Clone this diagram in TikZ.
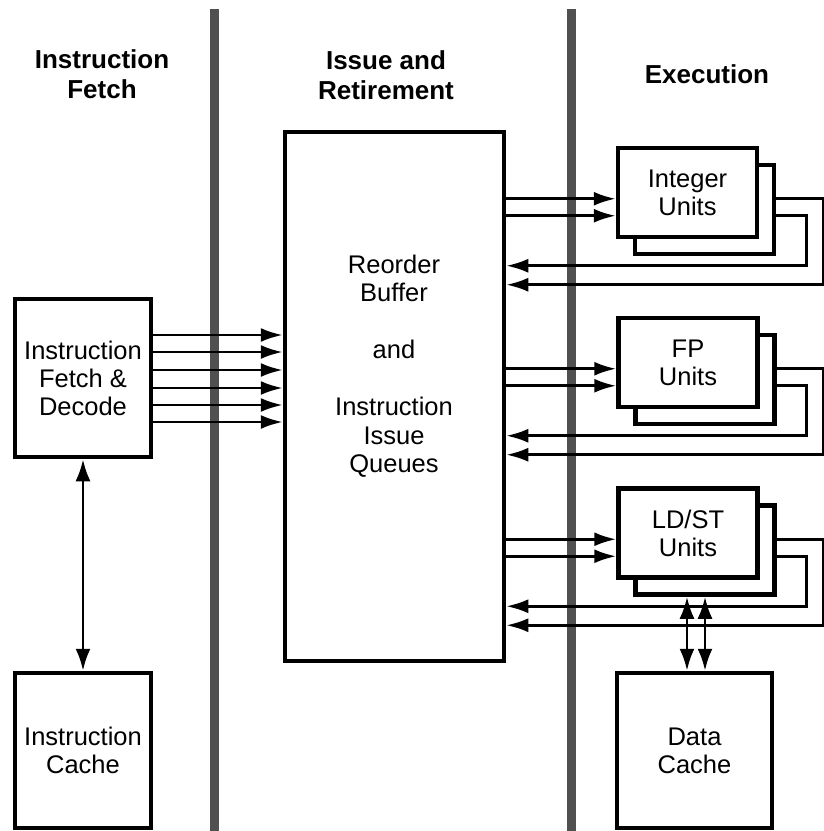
\documentclass[tikz,border=0pt]{standalone}
\usepackage{fontspec}
\setmainfont{Liberation Sans}
\usepackage{tikz}
\usetikzlibrary{arrows.meta,positioning,calc}
\definecolor{figrule}{RGB}{80,80,80}

\begin{document}
\begin{tikzpicture}[
  x=1pt, y=-1pt,
  box/.style={draw, line width=4.5pt, fill=white, inner sep=0pt, align=center,
    font={\fontsize{25.5}{28}\selectfont}},
  unit/.style={box, minimum width=139pt, minimum height=89pt},
  head/.style={align=center, font={\fontsize{26}{30}\selectfont\bfseries}},
  divider/.style={figrule, line width=9pt},
  arr/.style={-{Latex[length=22pt,width=14pt]}, line width=2.8pt},
  darr/.style={{Latex[length=22pt,width=15pt]}-{Latex[length=22pt,width=15pt]}, line width=2.8pt}]
  \useasboundingbox (0,0) rectangle (824,831);
  \draw[divider] (214,9) -- (214,831);
  \draw[divider] (571,9) -- (571,831);
  \node[head] (hfetch) at (102,74) {Instruction\\Fetch};
  \node[head] (hissue) at (386,75) {Issue and\\Retirement};
  \node[head] (hexec) at (707,74) {Execution};
  \node[box, minimum width=136pt, minimum height=158pt] (ifd) at (83,378)
    {Instruction\\Fetch \&\\Decode};
  \node[box, minimum width=136pt, minimum height=155pt] (ic) at (83,750.5)
    {Instruction\\Cache};
  \node[box, minimum width=219pt, minimum height=529pt] (rob) at (394.5,396.5) {};
  \node[align=center, font={\fontsize{25.5}{28.5}\selectfont}] (robtxt) at (394,366)
    {Reorder\\Buffer\\[28.5pt]and\\[28.5pt]Instruction\\Issue\\Queues};
  \node[unit] (intb) at (704.5,209.5) {};
  \node[unit] (intf) at (687.5,192.5) {Integer\\Units};
  \node[unit] (fpb) at (705,379.5) {};
  \node[unit] (fpf) at (688,362.5) {FP\\Units};
  \node[unit] (lsb) at (705,550) {};
  \node[unit] (lsf) at (688,533) {LD/ST\\Units};
  \node[box, minimum width=155pt, minimum height=155pt] (dc) at (694.5,750.5)
    {Data\\Cache};
  \foreach \k in {335,352,370,388,405,422}
    \draw[arr] (ifd.east |- 0,\k) -- (rob.west |- 0,\k);
  \draw[darr] (ifd) -- (ic);
  \foreach \u in {int,fp,ls} {
    \coordinate (\u a) at ([yshift=-53pt]\u f.north);
    \coordinate (\u c) at ([yshift=-70pt]\u f.north);
    \coordinate (\u o) at ([yshift=-139pt]\u f.north);
    \coordinate (\u i) at ([yshift=-120pt]\u f.north);
    \draw[arr] (rob.east |- \u a) -- (\u f.west |- \u a);
    \draw[arr] (rob.east |- \u c) -- (\u f.west |- \u c);
    \draw[arr] (\u b.east |- \u a) -| ($(\u b.east |- \u o)+(47,0)$) -- (rob.east |- \u o);
    \draw[arr] (\u b.east |- \u c) -| ($(\u b.east |- \u i)+(30,0)$) -- (rob.east |- \u i);
  }
  \draw[darr] (lsb.south -| 687,0) -- (dc.north -| 687,0);
  \draw[darr] (lsb.south -| 705,0) -- (dc.north -| 705,0);
\end{tikzpicture}
\end{document}
